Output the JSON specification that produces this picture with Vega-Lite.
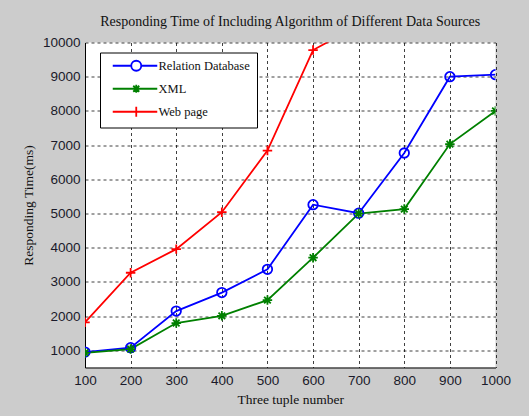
{
  "$schema": "https://vega.github.io/schema/vega-lite/v6.json",
  "width": 410.5,
  "height": 325,
  "autosize": {"type": "none"},
  "padding": {"left": 85, "top": 42.5, "right": 33.5, "bottom": 48.5},
  "background": "#cccccc",
  "title": {
    "text": "Responding Time of Including Algorithm of Different Data Sources",
    "font": "Liberation Serif",
    "fontSize": 14,
    "fontWeight": "normal",
    "color": "#111111",
    "anchor": "middle",
    "offset": 7
  },
  "config": {
    "view": {"fill": "white", "stroke": null},
    "axis": {
      "labelFont": "Liberation Sans",
      "labelFontSize": 13.5,
      "labelColor": "#1a1a2a",
      "labelFlush": false,
      "titleFont": "Liberation Serif",
      "titleFontSize": 13.5,
      "titleFontWeight": "normal",
      "titleColor": "#111111",
      "domainColor": "black",
      "domainWidth": 1,
      "tickSize": 0,
      "grid": true,
      "gridColor": "#000000",
      "gridOpacity": 0.75,
      "gridDash": [3, 3],
      "gridWidth": 1,
      "format": "d"
    },
    "legend": {
      "labelFont": "Liberation Serif",
      "labelFontSize": 12.5,
      "labelColor": "#111111",
      "labelLimit": 300
    }
  },
  "data": {
    "values": [
      {"n": 100, "t": 950, "series": "Relation Database"},
      {"n": 200, "t": 1080, "series": "Relation Database"},
      {"n": 300, "t": 2150, "series": "Relation Database"},
      {"n": 400, "t": 2690, "series": "Relation Database"},
      {"n": 500, "t": 3370, "series": "Relation Database"},
      {"n": 600, "t": 5260, "series": "Relation Database"},
      {"n": 700, "t": 5010, "series": "Relation Database"},
      {"n": 800, "t": 6770, "series": "Relation Database"},
      {"n": 900, "t": 9000, "series": "Relation Database"},
      {"n": 1000, "t": 9060, "series": "Relation Database"},
      {"n": 100, "t": 930, "series": "XML"},
      {"n": 200, "t": 1040, "series": "XML"},
      {"n": 300, "t": 1800, "series": "XML"},
      {"n": 400, "t": 2010, "series": "XML"},
      {"n": 500, "t": 2470, "series": "XML"},
      {"n": 600, "t": 3710, "series": "XML"},
      {"n": 700, "t": 5000, "series": "XML"},
      {"n": 800, "t": 5130, "series": "XML"},
      {"n": 900, "t": 7030, "series": "XML"},
      {"n": 1000, "t": 8000, "series": "XML"},
      {"n": 100, "t": 1820, "series": "Web page"},
      {"n": 200, "t": 3270, "series": "Web page"},
      {"n": 300, "t": 3960, "series": "Web page"},
      {"n": 400, "t": 5040, "series": "Web page"},
      {"n": 500, "t": 6840, "series": "Web page"},
      {"n": 600, "t": 9780, "series": "Web page"},
      {"n": 700, "t": 10500, "series": "Web page"}
    ]
  },
  "encoding": {
    "x": {
      "field": "n",
      "type": "quantitative",
      "scale": {"domain": [100, 1000], "nice": false, "zero": false},
      "axis": {
        "values": [100, 200, 300, 400, 500, 600, 700, 800, 900, 1000],
        "title": "Three tuple number",
        "labelPadding": 6,
        "titlePadding": 5
      }
    },
    "y": {
      "field": "t",
      "type": "quantitative",
      "scale": {"domain": [500, 10000], "nice": false, "zero": false},
      "axis": {
        "values": [1000, 2000, 3000, 4000, 5000, 6000, 7000, 8000, 9000, 10000],
        "title": "Responding Time(ms)",
        "labelPadding": 5,
        "titlePadding": 7
      }
    },
    "color": {
      "field": "series",
      "type": "nominal",
      "scale": {
        "domain": ["Relation Database", "XML", "Web page"],
        "range": ["#0000ff", "#008000", "#ff0000"]
      },
      "legend": {
        "title": null,
        "orient": "none",
        "legendX": 15,
        "legendY": 10,
        "padding": 7,
        "strokeColor": "black",
        "fillColor": "white",
        "symbolSize": 100,
        "symbolOffset": 23,
        "labelOffset": 16,
        "rowPadding": 6,
        "symbolType": "M-4.7,0L4.2,0",
        "encode": {
          "symbols": {
            "update": {
              "shape": {"signal": "datum.value === 'Relation Database' ? 'M-4.7,0L-1,0M1,0L4.2,0M1,0A1,1,0,1,0,-1,0A1,1,0,1,0,1,0' : datum.value === 'XML' ? 'M-4.7,0L4.2,0M0,-0.8L0,0.8M-0.6,-0.6L0.6,0.6M-0.6,0.6L0.6,-0.6' : 'M-4.7,0L4.2,0M0,-1L0,1'"},
              "fill": {"value": "transparent"},
              "fillOpacity": {"value": 0},
              "stroke": {"signal": "datum.value === 'Relation Database' ? '#0000ff' : datum.value === 'XML' ? '#008000' : '#ff0000'"},
              "strokeWidth": {"signal": "datum.value === 'Web page' ? 1.5 : 2"},
              "opacity": {"value": 1}
            }
          }
        }
      }
    },
    "strokeWidth": {
      "field": "series",
      "type": "nominal",
      "scale": {
        "domain": ["Relation Database", "XML", "Web page"],
        "range": [1.8, 1.8, 1.4]
      },
      "legend": null
    }
  },
  "layer": [
    {
      "mark": {"type": "line", "clip": true}
    },
    {
      "transform": [{"filter": "datum.series === 'Relation Database'"}],
      "mark": {"type": "point", "clip": true, "filled": false, "size": 90, "opacity": 1, "shape": "circle"}
    },
    {
      "transform": [{"filter": "datum.series === 'XML'"}],
      "mark": {"type": "point", "clip": true, "filled": false, "size": 90, "opacity": 1, "shape": "M-1,0L1,0M0,-1L0,1M-0.7,-0.7L0.7,0.7M-0.7,0.7L0.7,-0.7"}
    },
    {
      "transform": [{"filter": "datum.series === 'Web page'"}],
      "mark": {"type": "point", "clip": true, "filled": false, "size": 90, "opacity": 1, "shape": "M-1,0L1,0M0,-1L0,1"}
    }
  ]
}
